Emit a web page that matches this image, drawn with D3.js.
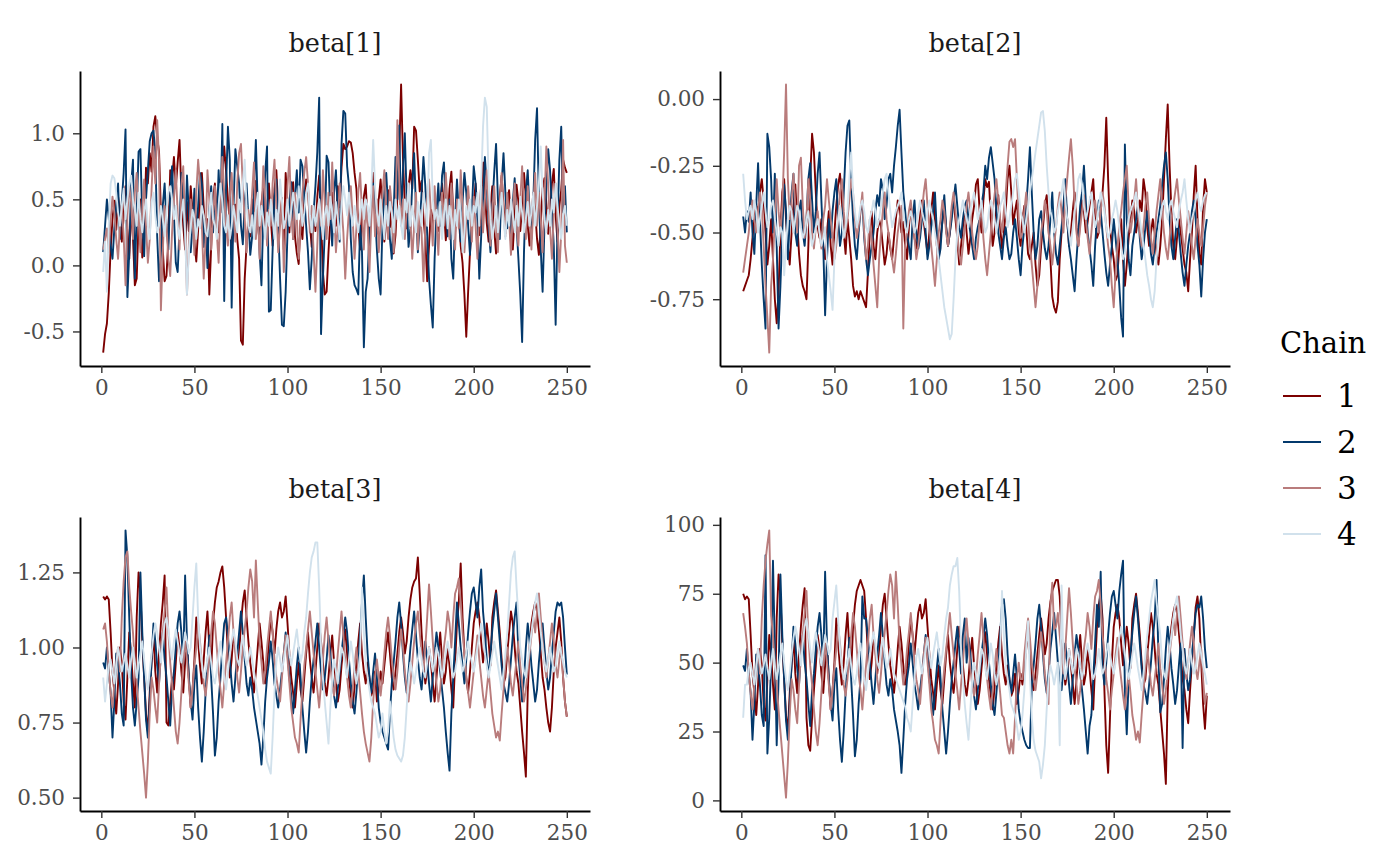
<!DOCTYPE html>
<html>
<head>
<meta charset="utf-8">
<script src="https://cdn.jsdelivr.net/npm/d3@7"></script>
<style>
  body { margin: 0; background: #fff; }
  svg { display: block; }
  text { font-family: "DejaVu Serif", "Liberation Serif", serif; }
</style>
</head>
<body>
<div id="chart"></div>
<script>
// trace plot: 4 parameters x 4 chains, 250 iterations each
const chains = ["1", "2", "3", "4"];
const chainColors = ["#7c0000", "#03396c", "#b97c7c", "#d1e1ec"];
const paramNames = ["beta[1]", "beta[2]", "beta[3]", "beta[4]"];
const xTicks = [0, 50, 100, 150, 200, 250];
const yTicks = [[-0.5, 0, 0.5, 1], [-0.75, -0.5, -0.25, 0], [0.5, 0.75, 1, 1.25], [0, 25, 50, 75, 100]];
const yTickFormats = [".1f", ".2f", ".2f", "d"];

// beta[1]
const b1c1 = [-.66,-.52,-.44,-.21,.12,.35,.49,.27,.52,.41,.18,.37,.6,.28,.05,.44,.21,-.15,-.1,.33,.5,.06,.25,.74,.62,.85,.71,1.05,1.13,.97,.86,.4,.12,-.12,-.08,.2,.72,.65,.82,.59,.78,.95,.55,.3,.12,.48,.26,.6,.4,.18,
.03,.27,.56,.7,.44,.21,.35,-.22,.14,.5,.62,.38,.25,.45,.68,.9,.71,.5,.33,.12,.28,.46,.2,.05,-.57,-.6,-.1,.15,.32,.22,.5,.41,.64,.33,.18,.47,.59,.27,.41,.62,.36,.15,.58,.72,.44,.3,.51,.12,.7,.46,
.25,.57,.63,.22,.09,.01,.34,.2,.47,.65,.58,.31,.14,.43,.26,.52,.68,.37,-.05,-.22,-.2,.1,.35,.55,.42,.3,.6,.44,.74,.92,.88,.9,.94,.93,.85,.7,.58,.3,.12,.43,.52,.61,.34,.2,.46,.7,.39,.24,.5,.65,
.4,.18,.33,.57,.29,.44,.09,.23,.52,.85,1.37,.81,.45,.28,.6,.72,.58,1.05,1.02,.8,.56,.64,.36,.2,-.12,.15,.42,.3,.5,.38,.26,.48,.62,.44,.19,.33,.58,.71,.4,.25,.5,.36,.15,.02,-.22,-.54,-.2,.1,.3,.46,
.62,.41,.23,.5,.78,.55,.32,.18,.44,.6,.27,.09,.35,.52,.68,.46,.24,.4,.57,.33,.12,.38,.61,.48,.26,.44,.7,.52,.3,.15,.36,.55,.42,.2,.08,.31,.58,.66,.47,.24,.4,.62,.73,.38,.18,.45,.57,.8,.74,.7];
const b1c2 = [.1,.3,.5,.36,.15,.05,.28,.45,.62,.2,.48,.7,1.03,-.24,.1,.6,.8,-.1,.4,.86,.88,.35,.07,.5,.72,.94,1.0,1.02,.85,.22,-.12,.08,.45,.62,.31,.12,.55,.75,.38,.02,-.05,.28,.7,.5,.2,.68,.4,.1,.3,.58,
.24,.45,.7,.62,.14,.35,-.02,.42,.6,.25,.55,.3,.72,.4,1.07,-.27,.6,1.05,.8,-.32,.45,.88,.75,.62,.3,.16,.48,.62,.35,.08,.22,.58,.95,.45,.1,-.15,.38,.7,.9,-.35,-.34,.12,.52,.65,.3,-.1,-.45,-.46,-.2,.25,
.48,.63,.2,.52,.72,.4,.8,.75,.52,.3,.1,-.18,.05,.4,.6,.86,1.27,-.52,-.1,.25,.83,.78,.4,.15,.55,.72,.4,.18,.92,1.17,1.15,.75,.6,.2,-.05,-.15,-.18,-.22,.3,.1,-.62,-.2,-.1,.25,.5,.62,.4,.12,-.1,-.22,
.3,.55,.7,.45,.2,.05,.4,.82,.5,1.06,.35,.72,1.0,.5,.14,.28,.62,.85,.42,.1,.3,.55,.82,.6,.24,-.1,-.3,-.47,.05,.4,.62,.3,.68,.78,.45,.22,.5,.05,-.1,.35,.65,.4,.18,.48,.7,.55,.3,.08,.4,.75,
.62,.35,-.1,.22,.5,.82,.6,.3,.1,.45,.7,.92,.5,.2,.62,.85,.55,.28,.4,.18,.48,.66,.3,.05,-.22,-.58,.1,.55,.72,.4,.2,.48,.95,1.19,.5,.12,-.2,.3,.6,.88,.72,.42,.15,-.45,.3,.8,1.05,.4,.6,.25];
const b1c3 = [.12,.2,.28,.1,.35,.52,.4,.2,.05,.3,.45,.22,-.15,.38,.6,.48,.2,.55,.7,.35,.1,.42,.65,.3,.02,.2,.58,.9,.62,1.1,.8,-.34,.1,.45,.3,.05,-.08,.25,.5,.72,.4,.12,.6,.75,.3,-.22,.15,.5,.35,.08,
.55,.8,.62,.3,-.1,.2,.72,.5,.12,.38,.6,.25,.02,.45,.82,.55,.3,.15,.5,.7,.4,.18,.62,.85,.92,.6,.35,.1,.42,.3,.55,.78,.2,.45,.05,.35,.75,.5,.15,.42,.3,.62,.8,.45,.1,.3,.5,-.05,.25,.6,
.82,.4,.2,.55,.35,.05,.3,.55,.7,.82,.62,.25,.45,.1,-.2,.15,.5,.3,.72,.48,.2,.55,.35,.78,.42,.1,.3,.62,.45,.25,-.1,.2,.42,.6,.35,.05,.28,.55,.7,.4,.12,.48,.3,-.05,.35,.6,.22,.5,.1,.32,
.55,.72,.4,.2,.6,.45,.1,.35,1.1,.65,.3,.5,.2,.42,.62,.35,.05,.3,.55,.12,.42,.25,-.12,.3,.5,.65,.4,.15,.6,.35,.08,.42,.55,.3,.7,.45,.2,.62,.38,.12,.5,.28,.72,.45,.1,.35,.6,.4,.18,.52,
.3,.05,.45,.6,.25,.5,.72,.38,.15,.42,.6,.3,.1,.48,.7,.4,.22,.55,.35,.08,.42,.62,.3,.15,.5,.75,.45,.2,.6,.38,.12,.45,.7,.3,.55,.35,.1,.48,.9,.6,.28,.05,.4,.62,.3,-.05,.25,.95,.15,.02];
const b1c4 = [-.05,.18,-.2,.3,.62,.68,.66,.55,.4,.3,.45,.58,.35,.5,.62,.68,.5,.42,.3,.55,.35,.25,.4,.5,.3,.2,.48,.55,.38,.25,.3,.45,.35,.22,.4,.55,.6,.5,.35,.45,.3,.2,.38,.5,.25,-.22,.1,.3,.42,.35,
.2,.35,.28,.45,.38,.25,.22,.4,.55,.35,.3,.2,.45,.62,.48,.3,.25,.38,.2,.3,.45,.35,.25,.5,.4,.62,.8,.45,.3,.25,.38,.2,.42,.55,.3,.45,.35,.2,.4,.3,.5,.35,.2,.42,.3,.65,.5,.28,.35,.5,
.3,.42,.55,.45,.35,.6,.48,.3,.4,.55,.62,.38,.25,.45,.3,.4,.5,.35,.2,.38,.45,.3,.52,.4,.25,.48,.35,.2,.45,.6,.5,.38,.55,.4,.3,.45,.35,.25,.4,.5,.35,.5,.45,.3,.55,.95,.6,.4,.3,.5,
.35,.2,.45,.3,.48,.4,.25,.5,.35,.45,.3,.2,.5,.4,.62,.3,.45,.35,.25,.48,.4,.3,.55,.45,.3,.85,.95,.5,.35,.42,.3,.48,.2,.38,.5,.28,.45,.35,.2,.42,.3,.5,.4,.1,.25,.45,.35,.5,.3,.45,
.4,.55,.3,.62,1.05,1.27,1.2,.65,.35,.2,.3,.45,.25,.4,.55,.35,.2,.42,.3,.5,.38,.25,.45,.3,.52,.4,.25,.35,.48,.3,.4,.55,.3,.45,.62,.9,.55,.35,.25,.42,.3,.5,.4,.62,.45,.3,.2,.38,.45,.3];

// beta[2]
const b2c1 = [-.72,-.7,-.68,-.66,-.6,-.52,-.45,-.4,-.42,-.35,-.3,-.38,-.5,-.62,-.55,-.45,-.6,-.75,-.84,-.72,-.5,-.35,-.3,-.45,-.55,-.62,-.5,-.4,-.32,-.46,-.58,-.66,-.7,-.72,-.75,-.55,-.3,-.13,-.2,-.35,-.48,-.52,-.45,-.55,-.6,-.5,-.42,-.55,-.62,-.5,
-.4,-.32,-.28,-.38,-.5,-.58,-.45,-.52,-.6,-.7,-.74,-.72,-.75,-.72,-.74,-.76,-.78,-.65,-.5,-.42,-.55,-.6,-.5,-.45,-.48,-.55,-.62,-.58,-.5,-.56,-.6,-.52,-.45,-.38,-.42,-.5,-.46,-.55,-.6,-.48,-.4,-.45,-.52,-.56,-.5,-.44,-.38,-.46,-.52,-.58,
-.5,-.42,-.35,-.45,-.55,-.6,-.52,-.46,-.4,-.48,-.55,-.5,-.42,-.38,-.45,-.52,-.62,-.55,-.48,-.42,-.5,-.58,-.52,-.45,-.4,-.32,-.3,-.42,-.5,-.38,-.3,-.33,-.31,-.45,-.55,-.5,-.4,-.36,-.48,-.56,-.5,-.42,-.3,-.25,-.35,-.47,-.42,-.38,-.5,-.55,
-.45,-.4,-.48,-.58,-.6,-.55,-.5,-.62,-.7,-.66,-.55,-.48,-.4,-.36,-.48,-.6,-.74,-.78,-.8,-.76,-.6,-.5,-.42,-.35,-.45,-.55,-.5,-.42,-.35,-.48,-.55,-.45,-.38,-.42,-.5,-.46,-.4,-.35,-.3,-.45,-.52,-.5,-.42,-.35,-.25,-.07,-.3,-.48,-.55,-.6,
-.68,-.66,-.55,-.45,-.6,-.7,-.62,-.52,-.45,-.38,-.42,-.5,-.45,-.38,-.42,-.3,-.35,-.48,-.55,-.5,-.45,-.5,-.58,-.62,-.55,-.45,-.3,-.15,-.02,-.25,-.42,-.55,-.6,-.52,-.45,-.5,-.56,-.62,-.65,-.72,-.6,-.5,-.36,-.25,-.45,-.58,-.62,-.4,-.3,-.35];
const b2c2 = [-.44,-.5,-.42,-.46,-.35,-.5,-.58,-.4,-.24,-.45,-.62,-.75,-.86,-.13,-.18,-.3,-.5,-.28,-.55,-.86,-.7,-.5,-.32,-.42,-.6,-.45,-.35,-.28,-.5,-.55,-.42,-.38,-.5,-.55,-.45,-.3,-.24,-.38,-.5,-.42,-.28,-.2,-.38,-.55,-.81,-.6,-.45,-.52,-.42,-.35,
-.3,-.45,-.55,-.5,-.35,-.2,-.1,-.08,-.3,-.45,-.55,-.6,-.5,-.42,-.38,-.52,-.6,-.66,-.6,-.55,-.5,-.42,-.36,-.4,-.3,-.34,-.45,-.4,-.3,-.28,-.35,-.25,-.18,-.1,-.04,-.2,-.35,-.42,-.5,-.55,-.6,-.45,-.38,-.5,-.56,-.52,-.45,-.38,-.5,-.6,
-.55,-.48,-.42,-.35,-.5,-.6,-.56,-.45,-.36,-.48,-.55,-.5,-.45,-.38,-.32,-.4,-.48,-.52,-.45,-.4,-.38,-.45,-.5,-.55,-.6,-.52,-.48,-.45,-.4,-.35,-.25,-.3,-.22,-.18,-.24,-.3,-.42,-.5,-.55,-.6,-.52,-.48,-.55,-.6,-.58,-.5,-.45,-.52,-.6,-.66,
-.55,-.48,-.4,-.3,-.18,-.35,-.5,-.6,-.55,-.45,-.42,-.5,-.56,-.6,-.55,-.45,-.35,-.5,-.58,-.62,-.55,-.48,-.4,-.3,-.45,-.55,-.6,-.66,-.72,-.6,-.5,-.4,-.35,-.25,-.38,-.5,-.56,-.62,-.7,-.55,-.45,-.38,-.42,-.5,-.58,-.65,-.7,-.62,-.55,-.45,
-.52,-.6,-.7,-.82,-.89,-.17,-.45,-.6,-.66,-.55,-.5,-.45,-.4,-.52,-.6,-.55,-.48,-.42,-.5,-.58,-.62,-.55,-.5,-.45,-.4,-.32,-.25,-.2,-.3,-.45,-.55,-.6,-.52,-.45,-.5,-.58,-.65,-.7,-.62,-.55,-.5,-.42,-.38,-.45,-.55,-.62,-.74,-.6,-.5,-.45];
const b2c3 = [-.65,-.6,-.55,-.5,-.42,-.38,-.45,-.5,-.42,-.35,-.4,-.55,-.7,-.82,-.95,-.7,-.6,-.45,-.3,-.42,-.5,-.4,-.2,.055,-.3,-.45,-.38,-.28,-.4,-.5,-.25,-.22,-.4,-.52,-.45,-.3,-.38,-.5,-.56,-.48,-.42,-.5,-.56,-.45,-.4,-.3,-.38,-.45,-.52,-.6,
-.55,-.45,-.35,-.3,-.42,-.5,-.45,-.38,-.3,-.35,-.45,-.52,-.48,-.42,-.35,-.5,-.6,-.55,-.45,-.52,-.62,-.7,-.78,-.6,-.5,-.42,-.35,-.45,-.5,-.55,-.6,-.65,-.58,-.5,-.45,-.4,-.86,-.55,-.5,-.42,-.38,-.45,-.52,-.6,-.55,-.48,-.42,-.35,-.3,-.4,
-.48,-.55,-.62,-.7,-.6,-.5,-.45,-.38,-.42,-.5,-.55,-.48,-.4,-.35,-.42,-.5,-.58,-.62,-.55,-.48,-.4,-.35,-.42,-.5,-.56,-.6,-.55,-.45,-.4,-.52,-.6,-.66,-.58,-.5,-.42,-.36,-.3,-.38,-.45,-.5,-.42,-.35,-.25,-.16,-.15,-.18,-.15,-.3,-.45,-.52,
-.5,-.42,-.35,-.45,-.55,-.62,-.7,-.78,-.7,-.6,-.5,-.45,-.38,-.42,-.5,-.55,-.62,-.55,-.48,-.4,-.35,-.42,-.5,-.38,-.3,-.22,-.15,-.25,-.4,-.5,-.55,-.48,-.42,-.36,-.45,-.52,-.58,-.5,-.42,-.38,-.45,-.5,-.42,-.35,-.4,-.48,-.55,-.6,-.7,-.78,
-.65,-.55,-.48,-.42,-.35,-.3,-.25,-.4,-.5,-.45,-.38,-.3,-.42,-.5,-.55,-.48,-.4,-.35,-.45,-.52,-.58,-.5,-.42,-.36,-.3,-.42,-.5,-.56,-.6,-.52,-.45,-.4,-.35,-.3,-.38,-.45,-.52,-.58,-.5,-.42,-.48,-.55,-.6,-.52,-.45,-.5,-.55,-.48,-.4,-.35];
const b2c4 = [-.28,-.38,-.45,-.42,-.4,-.45,-.38,-.42,-.5,-.45,-.4,-.35,-.42,-.48,-.45,-.4,-.38,-.45,-.5,-.55,-.48,-.5,-.66,-.55,-.45,-.4,-.42,-.5,-.45,-.4,-.42,-.48,-.52,-.5,-.45,-.42,-.5,-.55,-.52,-.48,-.45,-.5,-.55,-.52,-.48,-.6,-.66,-.72,-.79,-.6,
-.5,-.45,-.4,-.45,-.52,-.48,-.42,-.3,-.2,-.35,-.42,-.48,-.45,-.4,-.38,-.42,-.48,-.5,-.45,-.42,-.38,-.42,-.48,-.45,-.4,-.35,-.3,-.28,-.35,-.42,-.48,-.45,-.42,-.4,-.38,-.35,-.42,-.48,-.5,-.45,-.42,-.45,-.5,-.48,-.42,-.38,-.42,-.45,-.48,-.42,
-.38,-.42,-.45,-.5,-.55,-.6,-.66,-.72,-.78,-.82,-.86,-.9,-.88,-.75,-.6,-.5,-.45,-.42,-.38,-.42,-.45,-.48,-.42,-.38,-.35,-.4,-.45,-.42,-.38,-.45,-.5,-.48,-.42,-.38,-.4,-.45,-.5,-.45,-.4,-.38,-.35,-.42,-.48,-.45,-.4,-.35,-.3,-.28,-.35,-.42,
-.45,-.5,-.45,-.4,-.35,-.3,-.25,-.2,-.15,-.1,-.05,-.045,-.12,-.25,-.35,-.42,-.45,-.5,-.48,-.42,-.38,-.35,-.3,-.38,-.45,-.5,-.55,-.48,-.42,-.38,-.3,-.28,-.32,-.4,-.45,-.42,-.38,-.35,-.42,-.48,-.45,-.4,-.35,-.38,-.42,-.48,-.52,-.5,-.45,-.42,
-.38,-.42,-.48,-.55,-.6,-.58,-.5,-.45,-.42,-.4,-.38,-.35,-.4,-.45,-.5,-.55,-.6,-.66,-.7,-.75,-.78,-.72,-.6,-.5,-.45,-.4,-.38,-.42,-.45,-.4,-.38,-.42,-.45,-.48,-.42,-.38,-.35,-.3,-.38,-.45,-.5,-.45,-.42,-.38,-.35,-.4,-.42,-.38,-.36,-.35];

// beta[3]
const b3c1 = [1.17,1.16,1.17,1.16,1.05,.92,.85,.78,.88,1.0,.95,.82,.76,.9,1.05,.98,.88,.8,1.1,1.25,1.18,1.02,.9,.78,.72,.85,.95,1.05,.92,.85,.98,1.08,1.15,1.24,.75,.74,.82,.9,.86,.95,1.05,1.0,.92,.85,.95,1.02,.9,.8,.86,.96,
1.1,1.02,.94,.88,.96,1.05,1.12,1.0,.92,1.08,1.15,1.2,1.22,1.25,1.27,1.2,1.1,.98,.9,.96,1.05,1.0,.92,.98,1.08,1.15,1.19,1.1,1.02,.95,.9,.85,.92,1.0,1.08,1.02,.95,.88,.94,1.02,1.1,1.05,.98,1.06,1.12,1.15,1.1,1.12,1.17,1.08,
.98,.9,.85,.8,.88,.95,.86,.82,.9,.98,1.05,.96,.9,.85,.92,1.0,1.08,1.02,.95,.88,.84,.9,.98,1.04,.95,.88,.82,.86,.94,1.0,1.06,.98,.9,.84,.8,.87,.95,1.02,1.08,.98,.92,.88,.95,.9,.84,.86,.92,.82,.86,.92,
.88,.94,1.0,1.05,.98,.9,.86,.92,.98,1.05,1.1,1.05,.98,1.02,1.1,1.16,1.2,1.22,1.23,1.3,1.18,1.05,.95,.88,.92,1.0,.95,.88,.82,.9,.98,1.05,.96,.88,.92,1.0,.94,.86,.8,.95,1.08,1.15,1.28,1.1,.98,.9,.85,.92,1.0,1.08,
1.12,1.15,1.1,1.02,.95,1.0,1.08,1.02,.94,1.1,1.15,1.19,1.12,1.05,.96,.88,.9,.98,1.05,1.12,1.08,1.0,.92,.88,.8,.72,.65,.57,.85,1.0,1.08,1.12,1.15,1.12,1.06,.98,.9,.86,.8,.75,.72,.8,.92,1.0,1.05,1.1,1.02,.9,.82,.77];
const b3c2 = [.95,.93,1.0,.92,.85,.7,.82,.98,.95,.88,.78,.74,1.39,1.3,1.1,.92,.8,.74,.82,.9,1.25,1.05,.9,.76,.7,.82,.96,1.08,1.02,.94,.88,.98,1.05,.96,.9,.82,.74,.86,.92,1.0,1.08,1.12,1.05,.94,1.24,1.02,.9,.82,.76,.88,
.94,.8,.7,.62,.72,.85,.95,1.04,.9,.78,.64,.7,.82,.9,1.0,1.08,1.1,1.04,.96,.88,.82,.9,.98,1.05,1.12,1.05,.96,.88,.84,.9,.86,.8,.76,.72,.68,.61,.7,.82,.9,.95,1.02,.96,.88,.84,.8,.86,.92,.98,1.05,.98,
.9,.84,.78,.86,.94,1.0,.9,.8,.72,.65,.72,.82,.9,.96,1.02,1.08,1.0,.92,.86,.9,.96,1.04,.98,.9,.84,.8,.86,.92,.98,1.04,1.1,1.05,.96,.88,.82,.78,.85,.94,1.05,1.15,1.24,1.1,.98,.9,.85,.92,.98,.9,.8,.75,
.72,.7,.68,.66,.78,.88,.95,1.02,1.1,1.15,1.08,.98,.9,.85,.92,1.0,1.06,1.12,1.04,.96,.9,.86,.94,1.02,.96,.88,.82,.9,.98,1.05,1.0,.92,.86,.8,.72,.65,.59,.78,.9,1.02,1.15,1.08,1.0,.94,.88,.96,1.05,1.12,1.18,1.2,
1.15,1.1,1.2,1.26,1.12,1.05,.96,.9,.98,1.06,1.12,1.18,1.1,1.02,.94,.88,.85,.82,.88,.96,1.04,1.1,1.15,.98,.9,.82,.9,1.0,1.08,1.02,.94,.88,.82,.86,.95,1.02,1.08,1.0,.92,.86,.9,.98,1.05,1.12,1.15,1.14,1.15,1.1,1.0,.91];
const b3c3 = [1.06,1.08,1.02,.92,.85,.8,.88,.95,1.0,.92,1.1,1.22,1.3,1.32,1.2,1.12,1.05,.95,.88,.8,.72,.65,.58,.5,.62,.78,.9,.86,.8,.75,.88,.98,1.05,1.12,1.2,1.05,.95,.88,.8,.72,.68,.75,.85,.95,1.02,.96,.88,.8,.86,.94,
1.0,1.08,1.02,.95,.88,.84,.9,.98,1.05,1.12,1.08,1.0,.92,.86,.8,.88,.95,1.02,1.1,1.15,1.05,.98,.9,.85,.92,1.0,1.06,1.12,1.2,1.26,1.22,1.1,1.29,1.15,1.02,.95,.88,.92,1.0,1.06,1.12,1.05,.96,.9,.86,.82,.9,.98,1.04,.96,
.88,.8,.75,.7,.68,.65,.76,.86,.94,1.0,1.06,1.12,1.05,.98,.92,.86,.8,.88,.96,1.04,1.1,1.02,.94,.88,.84,.9,.98,1.05,1.12,1.04,.96,.9,.84,.8,.86,.94,1.0,.92,.85,.78,.72,.68,.65,.62,.7,.82,.9,.96,.9,.84,
.9,.98,1.05,1.1,1.04,.96,.9,.86,.92,1.0,1.06,1.0,.92,.86,.82,.88,.95,1.02,1.08,1.12,1.05,.98,.92,1.0,1.1,1.21,1.12,1.02,.94,.88,.82,.86,.94,1.0,1.05,1.12,1.08,1.0,1.1,1.18,1.2,1.23,1.15,1.05,.98,.9,.85,.8,.86,.92,
.98,1.04,.96,.9,.84,.8,.86,.92,.85,.78,.74,.7,.72,.69,.78,.86,.94,1.0,.95,.88,.84,.9,.96,1.02,.94,.88,.82,.86,.92,.98,1.04,1.1,1.05,1.12,1.18,1.1,1.02,.95,.9,.96,1.02,1.08,1.02,.94,.9,.96,1.0,.9,.82,.77];
const b3c4 = [.9,.82,.88,.94,.96,.92,.88,.94,1.0,.96,.92,.95,.98,.94,.9,.96,1.0,.95,.9,.94,.98,1.02,.96,.9,.86,.92,.98,1.04,1.08,1.05,1.0,.95,1.02,1.08,1.1,1.06,1.0,.96,1.02,1.06,1.02,.98,.95,1.0,1.05,1.02,.98,1.0,1.1,1.2,
1.28,1.1,1.0,.95,.9,.92,.96,1.0,.95,.9,.88,.92,.98,1.02,.96,.9,.86,.92,.98,1.02,1.06,1.02,.96,.94,1.0,1.04,.98,.94,.96,1.0,.96,.92,.88,.84,.8,.76,.72,.66,.62,.6,.58,.7,.85,.95,1.0,.96,.92,.96,1.0,1.04,
.98,.94,.98,1.02,1.06,1.0,.95,.98,1.05,1.1,1.18,1.25,1.3,1.32,1.35,1.35,1.2,1.0,.9,.82,.75,.68,.8,.9,.96,.92,.88,.94,1.0,.98,.94,.9,.96,1.02,.98,.92,.88,.92,.98,1.2,1.05,.95,.9,.86,.82,.8,.78,.74,.7,.72,
.78,.72,.68,.72,.82,.76,.7,.66,.64,.63,.62,.64,.7,.8,.9,.95,.92,.88,.92,.96,1.0,.96,.92,.9,.95,1.0,.96,.92,.95,1.0,.98,.94,.9,.94,.98,1.02,.98,.94,.9,.92,.96,1.0,.96,.92,.94,.98,1.02,.98,.95,.92,
.96,1.0,1.04,1.08,1.04,.98,.94,.9,.94,.98,1.02,.98,.94,.9,.86,.92,.98,1.05,1.15,1.25,1.3,1.32,1.2,1.1,1.0,.96,.92,.9,.95,1.0,1.05,1.1,1.15,1.18,1.12,1.05,1.0,.95,.92,.96,1.0,.96,.92,.94,.98,1.02,.98,.95,.92,.9];

// beta[4]
const b4c1 = [75,73,74,73,60,46,39,31,42,55,49,35,29,44,60,53,42,33,66,82,74,57,44,31,25,39,49,60,46,39,53,63,71,77,30,20,18,30,40,49,60,55,46,39,49,57,44,33,40,50,
66,57,48,42,50,60,68,55,46,63,71,76,78,80,78,76,66,53,44,50,60,55,46,53,63,71,75,66,57,49,44,39,46,55,63,57,49,42,48,57,66,60,53,61,68,71,66,68,73,63,
53,44,39,33,42,49,40,35,44,53,60,50,44,39,46,55,63,57,49,42,38,44,53,59,49,42,35,40,48,55,61,53,44,38,33,41,49,57,63,53,46,42,49,44,38,40,46,35,40,46,
42,48,55,60,53,44,40,46,53,60,66,60,53,57,66,72,76,78,80,80,74,60,49,42,46,55,49,42,35,44,53,60,50,42,46,55,48,40,33,49,63,71,75,66,40,20,10,30,50,63,
68,71,66,57,49,55,63,57,48,66,71,75,68,60,50,42,44,53,60,68,63,55,46,42,33,25,17,6,39,55,63,68,71,68,61,53,44,40,33,28,40,50,60,70,74,66,50,35,26,38];
const b4c2 = [49,47,55,46,39,22,35,53,49,42,31,27,89,17,30,50,87,55,20,44,82,60,44,29,22,35,50,63,57,48,42,53,60,50,44,35,27,40,46,55,63,68,60,48,83,57,44,35,29,42,
48,33,22,14,25,39,49,59,44,31,16,22,35,44,74,66,66,59,50,42,35,44,53,60,68,60,50,42,38,44,40,33,29,25,20,10,22,35,44,49,57,50,42,38,33,40,46,53,60,53,
44,38,31,40,48,55,44,33,25,17,25,35,44,50,57,63,55,46,60,66,50,59,53,44,38,33,40,46,53,59,66,60,50,42,35,31,39,48,60,71,73,66,53,44,39,46,53,44,33,28,
25,22,20,19,19,42,49,57,66,71,63,53,44,39,46,55,61,68,59,50,44,40,48,57,50,42,35,44,53,60,55,46,40,33,25,17,27,31,44,57,71,63,83,48,42,50,60,68,74,76,
71,66,76,82,87,40,24,44,53,61,68,74,66,57,48,42,39,35,42,50,59,66,80,53,32,35,44,55,63,57,48,42,35,40,49,57,19,55,46,40,44,53,60,68,71,70,74,66,55,48];
const b4c3 = [68,63,57,46,39,33,42,49,55,46,66,78,87,93,98,67,60,49,42,33,25,17,9,1,14,31,44,40,33,28,42,53,60,68,76,60,49,42,33,25,20,28,39,49,57,50,42,33,40,48,
55,63,57,49,42,38,44,53,60,68,63,55,46,40,33,42,49,57,66,71,60,53,44,39,46,55,61,68,76,82,78,66,83,71,57,49,42,46,55,61,68,60,50,44,40,35,44,53,59,50,
42,33,28,22,20,17,29,40,48,55,61,68,60,53,46,40,33,42,50,59,66,57,48,42,38,44,53,60,68,59,50,44,38,33,40,48,55,46,39,31,30,25,20,17,22,17,30,44,50,44,
44,53,60,66,59,50,44,40,46,55,61,55,46,40,35,70,79,62,63,68,60,53,46,55,66,77,68,57,48,42,35,40,48,55,60,68,63,55,66,74,76,80,71,60,53,44,39,33,40,46,
53,59,50,44,38,33,40,46,39,31,27,22,25,21,31,40,48,55,49,42,38,44,50,57,48,42,35,40,46,53,59,66,60,68,74,66,57,49,44,50,57,63,57,48,44,50,55,44,35,39];
const b4c4 = [30,42,42,48,50,46,42,48,55,50,46,49,53,48,44,50,55,49,44,48,53,57,50,44,40,46,53,59,63,60,55,49,57,63,66,61,55,50,57,61,57,53,49,55,60,57,53,55,66,72,
78,66,55,49,44,46,50,55,49,44,42,46,53,57,50,44,40,46,53,57,61,57,50,48,55,59,53,48,50,55,50,46,44,42,40,38,36,34,30,28,25,35,45,52,55,50,46,50,55,59,
53,48,53,57,61,55,49,53,60,66,70,78,82,85,85,88,76,55,44,35,28,22,33,44,50,46,42,48,55,53,48,44,50,57,53,46,42,46,53,76,60,49,44,40,35,33,31,27,22,25,
31,40,55,65,45,30,22,18,16,14,8,13,20,33,44,49,46,42,46,50,20,78,50,44,49,55,50,46,49,55,53,48,44,48,53,57,53,48,44,46,50,55,50,46,48,53,57,53,49,46,
50,55,59,63,59,53,48,44,48,53,57,53,48,44,40,46,53,60,66,72,76,80,72,66,60,50,46,44,49,55,60,66,71,74,68,60,55,49,46,50,55,50,46,48,53,57,53,49,46,42];

const traces = [
  [b1c1, b1c2, b1c3, b1c4],
  [b2c1, b2c2, b2c3, b2c4],
  [b3c1, b3c2, b3c3, b3c4],
  [b4c1, b4c2, b4c3, b4c4]
];

const width = 1400;
const height = 866;

const panels = [
  { left: 80, right: 590, top: 71, bottom: 366 },
  { left: 720, right: 1230, top: 71, bottom: 366 },
  { left: 80, right: 590, top: 517, bottom: 811 },
  { left: 720, right: 1230, top: 517, bottom: 811 }
];

// ggplot style: hyphen minus, 5% expansion
const locale = d3.formatLocale({ decimal: ".", thousands: ",", grouping: [3], currency: ["$", ""], minus: "-" });
const expand = ext => {
  const pad = (ext[1] - ext[0]) * 0.05;
  return [ext[0] - pad, ext[1] + pad];
};

const svg = d3.select("#chart")
  .append("svg")
  .attr("width", width)
  .attr("height", height);

panels.forEach((p, i) => {
  const g = svg.append("g");
  const n = traces[i][0].length;

  const x = d3.scaleLinear()
    .domain(expand([1, n]))
    .range([p.left, p.right]);
  const y = d3.scaleLinear()
    .domain(expand(d3.extent(traces[i].flat())))
    .range([p.bottom, p.top]);

  const line = d3.line()
    .x((d, j) => x(j + 1))
    .y(d => y(d));

  // chains drawn in order so chain 4 ends on top
  g.selectAll("path.trace")
    .data(traces[i])
    .enter()
    .append("path")
    .attr("class", "trace")
    .attr("d", line)
    .attr("fill", "none")
    .attr("stroke", (d, c) => chainColors[c])
    .attr("stroke-width", 1.9)
    .attr("stroke-linejoin", "round");

  const xAxis = g.append("g")
    .attr("transform", `translate(0,${p.bottom})`)
    .call(d3.axisBottom(x).tickValues(xTicks).tickSizeInner(7).tickSizeOuter(0).tickPadding(7).tickFormat(d3.format("d")));
  const yAxis = g.append("g")
    .attr("transform", `translate(${p.left},0)`)
    .call(d3.axisLeft(y).tickValues(yTicks[i]).tickSizeInner(7).tickSizeOuter(0).tickPadding(8).tickFormat(locale.format(yTickFormats[i])));

  [xAxis, yAxis].forEach(a => {
    a.attr("font-family", null).attr("font-size", null);
    a.select(".domain").attr("stroke", "#000").attr("stroke-width", 1.9);
    a.selectAll(".tick line").attr("stroke", "#333").attr("stroke-width", 1.4);
    a.selectAll(".tick text").attr("fill", "#4d4d4d").style("font-size", "21.5px");
  });

  g.append("text")
    .attr("x", (p.left + p.right) / 2)
    .attr("y", p.top - 19)
    .attr("text-anchor", "middle")
    .attr("fill", "#1a1a1a")
    .style("font-size", "25.5px")
    .text(paramNames[i]);
});

// legend
const legend = svg.append("g");
legend.append("text")
  .attr("x", 1280)
  .attr("y", 353)
  .attr("fill", "#000")
  .style("font-size", "29px")
  .text("Chain");

chains.forEach((c, i) => {
  const ly = 396 + i * 46;
  legend.append("line")
    .attr("x1", 1283).attr("x2", 1321)
    .attr("y1", ly).attr("y2", ly)
    .attr("stroke", chainColors[i])
    .attr("stroke-width", 2);
  legend.append("text")
    .attr("x", 1337)
    .attr("y", ly)
    .attr("dy", "0.36em")
    .attr("fill", "#000")
    .style("font-size", "31px")
    .text(c);
});
</script>
</body>
</html>
